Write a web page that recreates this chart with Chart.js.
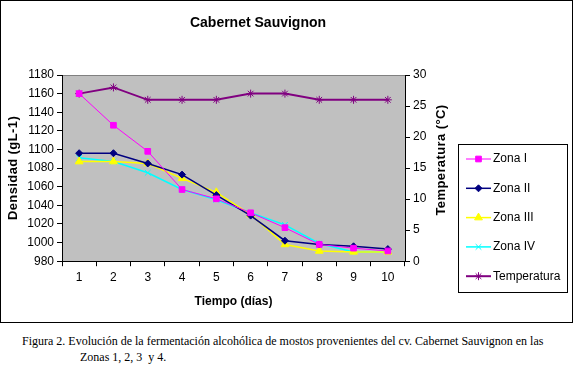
<!DOCTYPE html>
<html>
<head>
<meta charset="utf-8">
<script src="https://cdn.jsdelivr.net/npm/chart.js@4"></script>
<style>
  body { margin: 0; background: #fff; }
  #wrap { position: absolute; left: 0; top: 0; width: 575px; height: 325px; }
  #caption { position: absolute; left: 22px; top: 333px; font: 12px "Liberation Serif", "Times New Roman", serif; color: #000; line-height: 16px; }
  #caption .l2 { padding-left: 58px; }
</style>
</head>
<body>
<div id="wrap"><canvas id="myChart"></canvas></div>
<div id="caption">Figura 2. Evolución de la fermentación alcohólica de mostos provenientes del cv. Cabernet Sauvignon en las<br><span class="l2">Zonas 1, 2, 3&nbsp; y 4.</span></div>
<script>
const dias = ['1', '2', '3', '4', '5', '6', '7', '8', '9', '10'];
const zonaI = [1160, 1126, 1098, 1057, 1047, 1032, 1016, 998, 994, 991];
const zonaII = [1096, 1096, 1085, 1073, 1051, 1029, 1002, 998, 996, 993];
const zonaIII = [1087, 1087, 1085, 1069, 1054, 1030, 998, 991, 990, 990];
const zonaIV = [1091, 1087, 1075, 1057, 1046, 1032, 1019, 999, 990, 990];
const temperatura = [27, 28, 26, 26, 26, 27, 27, 26, 26, 26];

const FONT = '"Liberation Sans", Arial, sans-serif';

function serie(label, data, color, style, radius, width, axis) {
  return {
    label: label,
    data: data,
    borderColor: color,
    backgroundColor: color,
    pointBackgroundColor: color,
    pointBorderColor: color,
    pointStyle: style,
    pointRadius: radius,
    pointBorderWidth: 1,
    borderWidth: width,
    yAxisID: axis,
    tension: 0,
  };
}

const datasets = [
  serie('Zona I', zonaI, '#ff00ff', 'rect', 4, 1, 'y'),
  serie('Zona II', zonaII, '#000080', 'rectRot', 3.5, 1.5, 'y'),
  serie('Zona III', zonaIII, '#ffff00', 'triangle', 4.5, 1.5, 'y'),
  serie('Zona IV', zonaIV, '#00ffff', 'crossRot', 4, 1.5, 'y'),
  serie('Temperatura', temperatura, '#800080', 'star', 4, 2, 'y1'),
];

function vertical(c, text, x, y) {
  c.save();
  c.fillStyle = '#000';
  c.font = 'bold 13px ' + FONT;
  c.letterSpacing = '0.4px';
  c.textAlign = 'center';
  c.textBaseline = 'middle';
  c.translate(x, y);
  c.rotate(-Math.PI / 2);
  c.fillText(text, 0, 0);
  c.restore();
}

const decor = {
  id: 'decor',
  beforeDraw(chart) {
    const c = chart.ctx, a = chart.chartArea;
    c.save();
    c.fillStyle = '#c0c0c0';
    c.fillRect(a.left, a.top, a.right - a.left, a.bottom - a.top);
    c.strokeStyle = '#808080';
    c.lineWidth = 1;
    c.beginPath();
    c.moveTo(a.left, a.top + 0.5);
    c.lineTo(a.right, a.top + 0.5);
    c.stroke();
    c.restore();
  },
  afterDraw(chart) {
    const c = chart.ctx;
    c.save();
    // outer frame
    c.strokeStyle = '#000';
    c.lineWidth = 1;
    c.strokeRect(0.5, 0.5, 572, 322);
    // title
    c.fillStyle = '#000';
    c.font = 'bold 14px ' + FONT;
    c.textAlign = 'center';
    c.textBaseline = 'middle';
    c.fillText('Cabernet Sauvignon', 258, 23);
    c.restore();

    // axis titles, both read bottom to top
    vertical(c, 'Densidad (gL-1)', 13, 168);
    vertical(c, 'Temperatura (°C)', 441, 160);

    // legend
    c.save();
    c.strokeStyle = '#000';
    c.lineWidth = 1;
    c.strokeRect(458.5, 144.5, 109, 148);
    c.font = '12px ' + FONT;
    c.textBaseline = 'middle';
    c.textAlign = 'left';
    chart.data.datasets.forEach(function (ds, i) {
      const y = 159 + i * 29.3;
      c.strokeStyle = ds.borderColor;
      c.lineWidth = ds.borderWidth;
      c.beginPath();
      c.moveTo(466, y);
      c.lineTo(491, y);
      c.stroke();
      c.fillStyle = ds.backgroundColor;
      c.strokeStyle = ds.borderColor;
      c.lineWidth = 1;
      Chart.helpers.drawPoint(c, { pointStyle: ds.pointStyle, radius: ds.pointRadius, borderWidth: 1, rotation: 0 }, 478.5, y);
      c.fillStyle = '#000';
      c.fillText(ds.label, 493, y);
    });
    c.restore();
  },
};

const plain = function (v) { return String(v); };

const ctx = document.getElementById('myChart').getContext('2d');
const myChart = new Chart(ctx, {
  type: 'line',
  data: { labels: dias, datasets: datasets },
  plugins: [decor],
  options: {
    responsive: true,
    maintainAspectRatio: false,
    animation: false,
    layout: { padding: { left: 0, top: 75, right: 0, bottom: 16 } },
    plugins: { legend: { display: false }, tooltip: { enabled: false } },
    scales: {
      x: {
        offset: true,
        grid: { offset: true, drawOnChartArea: false, drawTicks: true, tickLength: 5, color: '#000' },
        border: { color: '#000', width: 1 },
        ticks: { color: '#000', font: { family: FONT, size: 12 }, padding: 4, maxRotation: 0 },
        title: { display: true, text: 'Tiempo (días)', color: '#000', font: { family: FONT, size: 12, weight: 'bold' }, padding: { top: 6, bottom: 0 } },
      },
      y: {
        position: 'left',
        min: 980,
        max: 1180,
        afterFit: function (s) { s.width = 62; },
        ticks: { stepSize: 20, color: '#000', font: { family: FONT, size: 12 }, padding: 3, callback: plain },
        grid: { drawOnChartArea: false, drawTicks: true, tickLength: 5, color: '#000' },
        border: { color: '#000', width: 1 },
      },
      y1: {
        position: 'right',
        min: 0,
        max: 30,
        afterFit: function (s) { s.width = 170; },
        ticks: { stepSize: 5, color: '#000', font: { family: FONT, size: 12 }, padding: 3, callback: plain },
        grid: { drawOnChartArea: false, drawTicks: true, tickLength: 5, color: '#000' },
        border: { color: '#000', width: 1 },
      },
    },
  },
});
</script>
</body>
</html>
